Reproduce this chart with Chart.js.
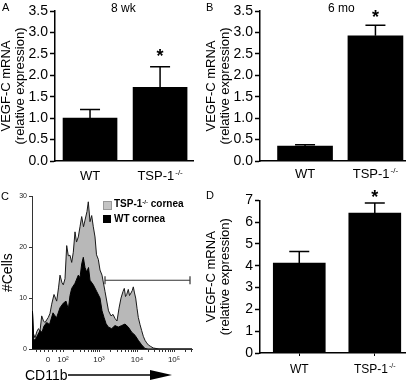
<!DOCTYPE html>
<html>
<head>
<meta charset="utf-8">
<script src="https://cdn.jsdelivr.net/npm/chart.js@4.4.0/dist/chart.umd.min.js"></script>
<style>
  body { margin: 0; background: #fff; font-family: "Liberation Sans", Arial, sans-serif; }
  #wrap { position: relative; width: 415px; height: 381px; overflow: hidden; }
  canvas { position: absolute; }
  .lbl { position: absolute; color: #000; white-space: nowrap; line-height: 1; }
  .lbl sup { font-size: 0.6em; vertical-align: 0.5em; }
  .box { position: absolute; width: 8px; height: 8px; }
</style>
</head>
<body>
<div id="wrap">
  <canvas id="cA" width="205" height="190" style="left:0;top:0"></canvas>
  <canvas id="cB" width="210" height="190" style="left:205px;top:0"></canvas>
  <canvas id="cC" width="205" height="191" style="left:0;top:190px"></canvas>
  <canvas id="cD" width="210" height="191" style="left:205px;top:190px"></canvas>

  <div class="lbl" style="left:2px;top:2px;font-size:11px">A</div>
  <div class="lbl" style="left:111px;top:2px;font-size:12px">8 wk</div>
  <div class="lbl" style="left:206px;top:2px;font-size:11px">B</div>
  <div class="lbl" style="left:328px;top:2px;font-size:12px">6 mo</div>
  <div class="lbl" style="left:1px;top:191px;font-size:11px">C</div>
  <div class="lbl" style="left:206px;top:190px;font-size:11px">D</div>

  <div class="box" style="left:103px;top:201px;background:#c4c4c4;border:1px solid #999;width:7px;height:7px"></div>
  <div class="lbl" style="left:114px;top:199px;font-size:10px;font-weight:bold">TSP-1<sup>-/-</sup> cornea</div>
  <div class="box" style="left:103px;top:215px;background:#000"></div>
  <div class="lbl" style="left:114px;top:214px;font-size:10px;font-weight:bold">WT cornea</div>

  <div class="lbl" style="left:25px;top:368px;font-size:14px">CD11b</div>
  <svg style="position:absolute;left:66px;top:368px" width="110" height="14">
    <line x1="2" y1="7" x2="90" y2="7" stroke="#000" stroke-width="1.5"/>
    <polygon points="84,2 106,7 84,12" fill="#000"/>
  </svg>
</div>
<script>
Chart.defaults.font.family = "'Liberation Sans', Arial, sans-serif";
Chart.defaults.color = "#000";
const FONT = "'Liberation Sans', Arial, sans-serif";

// bar panels
const categories = ["WT", "TSP-1-/-"];
const mean8wk = [1.0, 1.72];
const errTop8wk = [1.2, 2.2];
const mean6mo = [0.35, 2.92];
const errTop6mo = [0.38, 3.17];
const meanD = [4.13, 6.42];
const errTopD = [4.66, 6.88];
const starred = [false, true];

// flow histogram (CD11b channel, #cells)
const tspX = [0, 0.5, 1.5, 3, 5, 6.5, 8, 9.7, 11.5, 13, 16.3, 18, 19.7, 22, 24.7, 26.5, 28, 30, 31.3, 33,
  34.7, 36.3, 38, 39.7, 41.3, 43, 44.5, 46.3, 48, 49.7, 51.5, 53, 55, 56.3, 58, 59.7, 61.3, 63, 64.5, 66.3,
  68, 70, 73, 76.5, 79, 81, 83, 85, 87, 89, 91, 92.3, 93.5, 94.7, 96.3, 97.5, 99, 100.3, 101.3, 102.5,
  103.7, 105, 106.3, 108, 109.7, 111.3, 113, 114.7, 116.3, 118.7, 121.3, 124, 127, 160];
const tspY = [0, 7.2, 3, 2.2, 3.5, 4, 3.5, 6.5, 5.5, 5.2, 6.2, 7, 8.8, 10.7, 9.4, 12, 14.5, 13, 12.6, 13.8,
  20.3, 18.3, 18.4, 17, 19, 23, 21, 22, 24, 26, 24, 25.3, 27, 28.9, 25, 26.2, 24, 22, 18.5, 17.6,
  15.5, 14.5, 11.3, 7.5, 6.5, 6.8, 6.0, 5.5, 8, 10, 11.3, 11.9, 10.3, 10.7, 11.7, 10.5, 11, 11.5, 12.2, 11,
  10, 8, 6.2, 4.8, 3.6, 2.5, 1.7, 1.2, 0.8, 0.5, 0.2, 0.1, 0, 0];
const wtX = [0, 0.5, 1.5, 3, 5, 8, 10, 12, 14.7, 17.5, 21, 23, 24.7, 28, 31.3, 34, 36.3, 38, 39.7, 43,
  46.3, 48, 49.7, 51.3, 53, 54.7, 56.5, 58, 61.3, 64.7, 68, 70, 72, 74, 76.3, 79.7, 83, 86.3, 89.7, 93,
  96.3, 99.7, 103, 106.3, 109.7, 113, 116, 160];
const wtY = [0, 7.4, 2, 1.7, 2.5, 3.6, 3.3, 4.5, 5.2, 4.8, 7.1, 6.5, 6.2, 8.1, 9, 9.4, 7.8, 10.5, 11.9, 12.9,
  14.5, 14, 16.7, 18, 16, 15.1, 16, 13.5, 12.6, 11.3, 10, 7.5, 6.2, 5, 4.3, 4, 4.6, 4.3, 4.6, 4.9,
  4.3, 3.3, 2.7, 1.7, 0.8, 0.1, 0, 0];
const cd11bTickPos = [16, 31, 67, 105, 142];
const cd11bTickLabels = ["0", "10²", "10³", "10⁴", "10⁵"];
const gate = { from: 73, to: 158, level: 13.5 };

// error bars + significance star
const errPlugin = {
  id: "errbars",
  afterDatasetsDraw(chart, args, o) {
    const ctx = chart.ctx;
    const y = chart.scales.y;
    chart.getDatasetMeta(0).data.forEach((bar, i) => {
      const yt = y.getPixelForValue(o.tops[i]);
      ctx.save();
      ctx.strokeStyle = "#000";
      ctx.lineWidth = 1.5;
      ctx.beginPath();
      ctx.moveTo(bar.x, bar.y);
      ctx.lineTo(bar.x, yt);
      ctx.moveTo(bar.x - 10, yt);
      ctx.lineTo(bar.x + 10, yt);
      ctx.stroke();
      if (o.stars[i]) {
        ctx.fillStyle = "#000";
        ctx.font = "bold 18px " + FONT;
        ctx.textAlign = "center";
        ctx.textBaseline = "alphabetic";
        ctx.fillText("*", bar.x, yt - o.starLift);
      }
      ctx.restore();
    });
  }
};

// category labels with the -/- written as a superscript
const catLabelPlugin = {
  id: "catLabels",
  afterDraw(chart, args, o) {
    const ctx = chart.ctx, x = chart.scales.x;
    const base = chart.chartArea.bottom + o.offset;
    ctx.save();
    ctx.fillStyle = "#000";
    ctx.textAlign = "left";
    ctx.textBaseline = "alphabetic";
    categories.forEach((lab, i) => {
      const m = lab.match(/^(.*?)(-\/-)?$/);
      const main = m[1], sup = m[2] || "";
      const supSize = Math.round(o.size * 0.6);
      ctx.font = o.size + "px " + FONT;
      const w1 = ctx.measureText(main).width;
      ctx.font = supSize + "px " + FONT;
      const w2 = sup ? ctx.measureText(sup).width + 1 : 0;
      const left = x.getPixelForValue(i) - (w1 + w2) / 2;
      ctx.font = o.size + "px " + FONT;
      ctx.fillText(main, left, base);
      if (sup) {
        ctx.font = supSize + "px " + FONT;
        ctx.fillText(sup, left + w1 + 1, base - o.size * 0.42);
      }
    });
    ctx.restore();
  }
};

function barPanel(id, means, tops, p) {
  const cv = document.getElementById(id);
  return new Chart(cv, {
    type: "bar",
    data: {
      datasets: [{
        data: means.map((v, i) => ({ x: i, y: v })),
        backgroundColor: "#000",
        barThickness: p.barW
      }]
    },
    options: {
      responsive: false,
      animation: false,
      layout: { padding: { left: 0, top: p.top, right: cv.width - p.right, bottom: 0 } },
      plugins: {
        legend: { display: false },
        tooltip: { enabled: false },
        errbars: { tops: tops, stars: starred, starLift: p.starLift },
        catLabels: { offset: p.labelBase, size: p.labelSize }
      },
      scales: {
        x: {
          type: "linear",
          offset: false,
          bounds: "data",
          min: p.xmin,
          max: p.xmax,
          afterBuildTicks: s => { s.ticks = categories.map((c, i) => ({ value: i })); },
          afterFit: s => { s.height = cv.height - p.bottom; },
          ticks: { display: false },
          grid: { display: p.xTicks, drawOnChartArea: false, tickLength: 3, color: "#000", offset: false },
          border: { color: "#000", width: 1.5 }
        },
        y: {
          min: 0,
          max: p.ymax,
          afterFit: s => { s.width = p.left; },
          ticks: {
            stepSize: p.step,
            callback: v => p.step < 1 ? v.toFixed(1) : v,
            font: { size: 14 },
            padding: 2
          },
          grid: { drawOnChartArea: false, tickLength: 5, color: "#000", tickWidth: 1.5 },
          border: { color: "#000", width: 1.5 },
          title: {
            display: true,
            text: ["VEGF-C mRNA", "(relative expression)"],
            font: { size: 13, lineHeight: 1.05 },
            padding: { top: 0, bottom: 3 }
          }
        }
      }
    },
    plugins: [errPlugin, catLabelPlugin]
  });
}

barPanel("cA", mean8wk, errTop8wk, { left: 55, right: 193, top: 11, bottom: 161, xmin: -0.5, xmax: 1.47, barW: 54, ymax: 3.5, step: 0.5, labelBase: 19, labelSize: 13, xTicks: false, starLift: 5 });
barPanel("cB", mean6mo, errTop6mo, { left: 55, right: 200, top: 11, bottom: 161, xmin: -0.64, xmax: 1.42, barW: 55, ymax: 3.5, step: 0.5, labelBase: 17, labelSize: 13, xTicks: false, starLift: 2 });
barPanel("cD", meanD, errTopD, { left: 55, right: 200, top: 10, bottom: 163, xmin: -0.52, xmax: 1.4, barW: 52, ymax: 7, step: 1, labelBase: 20, labelSize: 12, xTicks: true, starLift: 0 });

// gate marker on histogram
const gatePlugin = {
  id: "gate",
  afterDatasetsDraw(chart) {
    const ctx = chart.ctx, x = chart.scales.x, y = chart.scales.y;
    const x1 = x.getPixelForValue(gate.from), x2 = x.getPixelForValue(gate.to), yy = y.getPixelForValue(gate.level);
    ctx.save();
    ctx.strokeStyle = "#333";
    ctx.lineWidth = 1.2;
    ctx.beginPath();
    ctx.moveTo(x1, yy); ctx.lineTo(x2, yy);
    ctx.moveTo(x1, yy - 4); ctx.lineTo(x1, yy + 4);
    ctx.moveTo(x2, yy - 4); ctx.lineTo(x2, yy + 4);
    ctx.stroke();
    ctx.restore();
  }
};

const minorPos = [];
[4, 8, 12, 20, 24, 28].forEach(v => minorPos.push(v));
for (let d = 1; d < cd11bTickPos.length - 1; d++) {
  const a = cd11bTickPos[d], b = cd11bTickPos[d + 1];
  for (let k = 2; k <= 9; k++) minorPos.push(a + (b - a) * Math.log10(k));
}
[2, 3].forEach(k => minorPos.push(142 + 37 * Math.log10(k)));

const cvC = document.getElementById("cC");
new Chart(cvC, {
  type: "line",
  data: {
    datasets: [
      {
        label: "WT cornea",
        data: wtX.map((x, i) => ({ x: x, y: wtY[i] })),
        borderColor: "#000",
        backgroundColor: "#000",
        borderWidth: 1,
        fill: "origin",
        pointRadius: 0,
        tension: 0
      },
      {
        label: "TSP-1-/- cornea",
        data: tspX.map((x, i) => ({ x: x, y: tspY[i] })),
        borderColor: "#1a1a1a",
        backgroundColor: "#b8b8b8",
        borderWidth: 1,
        fill: "origin",
        pointRadius: 0,
        tension: 0
      }
    ]
  },
  options: {
    responsive: false,
    animation: false,
    layout: { padding: { left: 0, top: 4, right: cvC.width - 192, bottom: 0 } },
    plugins: { legend: { display: false }, tooltip: { enabled: false } },
    scales: {
      x: {
        type: "linear",
        min: 0,
        max: 160,
        afterBuildTicks: s => {
          s.ticks = cd11bTickPos.map(v => ({ value: v, major: true }))
            .concat(minorPos.map(v => ({ value: v })))
            .sort((a, b) => a.value - b.value);
        },
        afterFit: s => { s.height = cvC.height - 159; },
        ticks: {
          autoSkip: false,
          maxRotation: 0,
          font: { size: 8 },
          color: "#222",
          padding: 3,
          callback: (v) => {
            const k = cd11bTickPos.indexOf(v);
            return k >= 0 ? cd11bTickLabels[k] : "";
          }
        },
        grid: { drawOnChartArea: false, tickLength: 3, color: "#333" },
        border: { color: "#333", width: 1 }
      },
      y: {
        min: 0,
        max: 30,
        afterFit: s => { s.width = 32; },
        ticks: { stepSize: 10, font: { size: 7 }, color: "#222", padding: 2 },
        grid: { drawOnChartArea: false, tickLength: 3, color: "#333" },
        border: { color: "#333", width: 1 },
        title: { display: true, text: "#Cells", font: { size: 14 }, padding: { top: 0, bottom: 2 } }
      }
    }
  },
  plugins: [gatePlugin]
});
</script>
</body>
</html>
